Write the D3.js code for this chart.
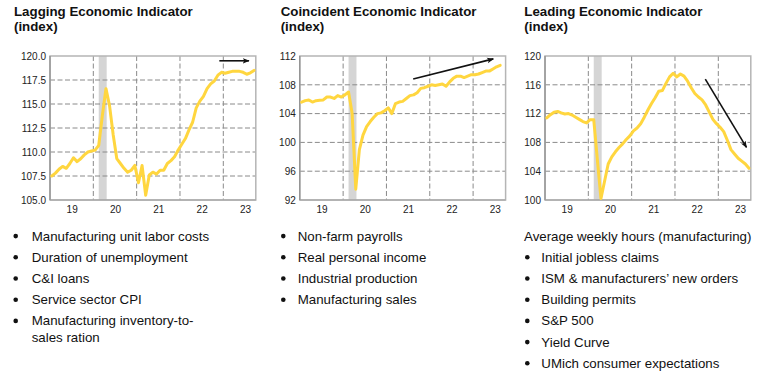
<!DOCTYPE html>
<html><head><meta charset="utf-8">
<script src="https://cdn.jsdelivr.net/npm/d3@7"></script>
<style>body{margin:0;background:#fff;} svg{display:block;font-family:"Liberation Sans",Arial,Helvetica,sans-serif;}</style>
</head><body><svg id="c" width="781" height="378"></svg>
<script>
// ---- data (monthly index values, Jan 2019 onward) ----
const yearLabels = ["19", "20", "21", "22", "23"];
const laggingValues = [107.5,107.8,108.2,108.5,108.3,108.8,109.4,109.0,109.3,109.7,110.0,110.1,
  110.2,110.7,113.8,116.6,114.8,111.8,109.3,108.8,108.3,107.9,108.1,108.6,
  106.8,108.6,105.5,107.6,107.9,107.7,108.1,108.1,108.8,109.1,109.5,110.2,
  110.8,111.4,112.3,113.1,114.6,115.3,115.8,116.6,117.1,117.4,118.0,118.3,
  118.2,118.3,118.4,118.4,118.4,118.3,118.1,118.25,118.5];
const coincidentValues = [105.6,105.8,105.9,105.6,105.8,105.85,105.9,106.3,106.3,106.1,106.5,106.3,
  106.6,107.0,104.0,93.5,99.0,101.0,102.2,102.9,103.5,104.0,104.1,104.4,
  104.8,104.0,105.4,105.6,105.7,106.1,106.5,106.6,106.9,107.5,107.6,107.8,
  108.0,107.9,108.0,108.1,107.8,108.4,108.9,109.2,109.2,109.0,109.2,109.4,
  109.4,109.5,109.7,109.9,109.9,110.2,110.5,110.7];
const leadingValues = [111.4,111.85,112.2,112.3,112.1,111.95,112.0,111.8,111.5,111.2,110.9,110.7,
  111.15,111.15,105.6,100.2,102.6,105.0,106.0,106.7,107.3,107.8,108.4,108.9,
  109.6,110.0,110.6,111.5,112.5,113.4,114.2,115.1,115.2,116.2,117.1,117.6,
  117.1,117.5,117.2,116.5,115.6,114.8,114.3,113.9,113.2,112.2,111.2,110.6,
  110.1,109.5,108.3,107.0,106.4,105.8,105.4,105.0,104.4];
const laggingTicks = [105, 107.5, 110, 112.5, 115, 117.5, 120];
const coincidentTicks = [92, 96, 100, 104, 108, 112];
const leadingTicks = [100, 104, 108, 112, 116, 120];
const recessionMonths = [13.0, 15.2];          // month index span (Feb–Apr 2020)
const laggingArrow = [[46.4, 119.5], [54.6, 119.5]];
const coincidentArrow = [[30.9, 108.8], [53.1, 111.6]];
const leadingArrow = [[43.9, 116.8], [55.3, 107.3]];
const titles = ["Lagging Economic Indicator", "Coincident Economic Indicator", "Leading Economic Indicator"];
const subtitle = "(index)";
const laggingItems = [["Manufacturing unit labor costs"], ["Duration of unemployment"], ["C&I loans"],
  ["Service sector CPI"], ["Manufacturing inventory-to-", "sales ration"]];
const coincidentItems = [["Non-farm payrolls"], ["Real personal income"], ["Industrial production"], ["Manufacturing sales"]];
const leadingIntro = "Average weekly hours (manufacturing)";
const leadingItems = [["Initial jobless claims"], ["ISM & manufacturers\u2019 new orders"], ["Building permits"],
  ["S&P 500"], ["Yield Curve"], ["UMich consumer expectations"]];

// ---- layout ----
const svg = d3.select("#c");
const TOP = 56, BOTTOM = 200, WIDTH = 205.8, MONTHS = 57;
const LINE = "#FFD63F";
const defs = svg.append("defs");
defs.append("marker").attr("id", "ah").attr("viewBox", "0 0 10 10").attr("refX", 9).attr("refY", 5)
  .attr("markerWidth", 7).attr("markerHeight", 7).attr("orient", "auto").attr("markerUnits", "userSpaceOnUse")
  .append("path").attr("d", "M0,1 L10,5 L0,9 L2.5,5 z").attr("fill", "#111");

const panels = [
  {left: 50.0, values: laggingValues, ticks: laggingTicks, fmt: d3.format(".1f"), arrow: laggingArrow,
   title: titles[0], titleX: 14, items: laggingItems, bulletX: 15.7, textX: 31.7, intro: null},
  {left: 299.8, values: coincidentValues, ticks: coincidentTicks, fmt: d3.format("d"), arrow: coincidentArrow,
   title: titles[1], titleX: 280.7, items: coincidentItems, bulletX: 283.3, textX: 297.7, intro: null},
  {left: 545.0, values: leadingValues, ticks: leadingTicks, fmt: d3.format("d"), arrow: leadingArrow,
   title: titles[2], titleX: 524.3, items: leadingItems, bulletX: 527.3, textX: 541.3, intro: leadingIntro}
];

panels.forEach(p => {
  const g = svg.append("g");
  const x = d3.scaleLinear().domain([0, MONTHS]).range([p.left, p.left + WIDTH]);
  const y = d3.scaleLinear().domain([p.ticks[0], p.ticks[p.ticks.length - 1]]).range([BOTTOM, TOP]);
  const mx = m => x(m + 0.5);

  // title
  const t = g.append("text").attr("x", p.titleX).attr("font-weight", "bold").attr("font-size", "13.3px").attr("fill", "#111");
  t.append("tspan").attr("x", p.titleX).attr("y", 16).text(p.title);
  t.append("tspan").attr("x", p.titleX).attr("y", 31).text(subtitle);

  // recession band
  g.append("rect").attr("x", mx(recessionMonths[0])).attr("y", TOP)
    .attr("width", mx(recessionMonths[1]) - mx(recessionMonths[0])).attr("height", BOTTOM - TOP).attr("fill", "#d5d5d5");

  // grid
  const inner = p.ticks.slice(1, -1);
  g.selectAll(".hg").data(inner).join("line").attr("x1", p.left).attr("x2", p.left + WIDTH)
    .attr("y1", d => y(d)).attr("y2", d => y(d)).attr("stroke", "#8a8a8a").attr("stroke-width", 1).attr("stroke-dasharray", "5,2.5");
  const yearStarts = yearLabels.slice(1).map((d, i) => 12 * (i + 1));
  g.selectAll(".vg").data(yearStarts).join("line").attr("y1", TOP).attr("y2", BOTTOM)
    .attr("x1", d => x(d)).attr("x2", d => x(d)).attr("stroke", "#8a8a8a").attr("stroke-width", 1).attr("stroke-dasharray", "5,2.5");

  // frame
  g.append("rect").attr("x", p.left).attr("y", TOP).attr("width", WIDTH).attr("height", BOTTOM - TOP)
    .attr("fill", "none").attr("stroke", "#b5b5b5").attr("stroke-width", 1.5);
  g.append("line").attr("x1", p.left).attr("x2", p.left).attr("y1", TOP).attr("y2", BOTTOM).attr("stroke", "#8c8c8c").attr("stroke-width", 1.2);
  g.append("line").attr("x1", p.left).attr("x2", p.left + WIDTH).attr("y1", BOTTOM).attr("y2", BOTTOM).attr("stroke", "#a0a0a0").attr("stroke-width", 1.2);

  // axes
  const ya = g.append("g").attr("transform", `translate(${p.left},0)`)
    .call(d3.axisLeft(y).tickValues(p.ticks).tickFormat(p.fmt).tickSize(0).tickPadding(4));
  ya.select(".domain").remove();
  ya.selectAll("text").attr("font-size", "10px").attr("fill", "#222").attr("font-family", "inherit");
  const xa = g.append("g").attr("transform", `translate(0,${BOTTOM})`)
    .call(d3.axisBottom(x).tickValues(yearLabels.map((d, i) => 12 * i + 6)).tickFormat((d, i) => yearLabels[i]).tickSize(0).tickPadding(6));
  xa.select(".domain").remove();
  xa.selectAll("text").attr("font-size", "10px").attr("fill", "#222").attr("font-family", "inherit");

  // series line
  g.append("path").datum(p.values).attr("fill", "none").attr("stroke", LINE).attr("stroke-width", 3)
    .attr("stroke-linejoin", "round").attr("stroke-linecap", "round")
    .attr("d", d3.line().x((d, i) => mx(i)).y(d => y(d)));

  // trend arrow
  g.append("line").attr("x1", mx(p.arrow[0][0])).attr("y1", y(p.arrow[0][1]))
    .attr("x2", mx(p.arrow[1][0])).attr("y2", y(p.arrow[1][1]))
    .attr("stroke", "#111").attr("stroke-width", 1.6).attr("marker-end", "url(#ah)");

  // list
  let base = 240.5;
  if (p.intro) {
    g.append("text").attr("x", 524).attr("y", base).attr("font-size", "13.3px").attr("fill", "#111").text(p.intro);
    base += 21.2;
  }
  p.items.forEach(lines => {
    g.append("circle").attr("cx", p.bulletX).attr("cy", base - 4.4).attr("r", 2.3).attr("fill", "#111");
    lines.forEach((ln, k) => {
      g.append("text").attr("x", p.textX).attr("y", base + k * 16.7).attr("font-size", "13.3px").attr("fill", "#111").text(ln);
    });
    base += 21.2 + (lines.length - 1) * 16.7;
  });
});
</script></body></html>
